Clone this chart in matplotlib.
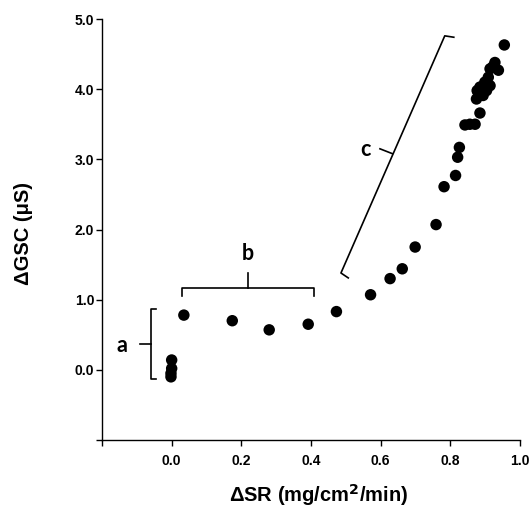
import matplotlib
matplotlib.use("Agg")
import matplotlib.pyplot as plt

# Data
delta_sr = [0.000, 0.000, -0.002, -0.002, 0.035, 0.174, 0.280, 0.392, 0.473,
            0.571, 0.627, 0.662, 0.699, 0.759, 0.782, 0.815, 0.821, 0.826,
            0.842, 0.856, 0.871, 0.885, 0.875, 0.880, 0.894, 0.885, 0.904,
            0.899, 0.914, 0.909, 0.914, 0.928, 0.938, 0.922, 0.890, 0.877,
            0.955]
delta_gsc = [0.14, 0.02, -0.05, -0.10, 0.78, 0.70, 0.57, 0.65, 0.83,
             1.07, 1.30, 1.44, 1.75, 2.07, 2.61, 2.77, 3.03, 3.17,
             3.49, 3.50, 3.50, 3.66, 3.86, 3.96, 3.91, 4.03, 3.98,
             4.10, 4.05, 4.17, 4.29, 4.38, 4.27, 4.32, 4.01, 3.98,
             4.63]

x_ticks = [-0.2, 0.0, 0.2, 0.4, 0.6, 0.8, 1.0]
x_tick_labels = ["", "0.0", "0.2", "0.4", "0.6", "0.8", "1.0"]
y_ticks = [-1.0, 0.0, 1.0, 2.0, 3.0, 4.0, 5.0]
y_tick_labels = ["", "0.0", "1.0", "2.0", "3.0", "4.0", "5.0"]

W, H = 531, 505
fig = plt.figure(figsize=(W / 100, H / 100), dpi=100)
ax = fig.add_axes([102 / W, 1 - 440 / H, (520 - 102) / W, (440 - 19) / H])

ax.scatter(delta_sr, delta_gsc, s=68, color="black", edgecolors="none", zorder=3)

ax.set_xlim(-0.2, 1.0)
ax.set_ylim(-1.0, 5.0)
ax.spines["top"].set_visible(False)
ax.spines["right"].set_visible(False)
for s in ("left", "bottom"):
    ax.spines[s].set_linewidth(1.0)

tick_font = dict(family="Liberation Sans", weight="bold", size=10)
ax.set_xticks(x_ticks)
ax.set_xticklabels(x_tick_labels, **tick_font)
ax.set_yticks(y_ticks)
ax.set_yticklabels(y_tick_labels, **tick_font)
ax.tick_params(direction="out", length=4, width=1.0)
ax.tick_params(axis="x", pad=6)
ax.tick_params(axis="y", pad=1.5)

plt.rcParams["mathtext.fontset"] = "custom"
plt.rcParams["mathtext.bf"] = "Liberation Sans:bold"
plt.rcParams["mathtext.rm"] = "Liberation Sans"
label_font = dict(family="Liberation Sans", weight="bold", size=14.5)
ax.set_xlabel("ΔSR (mg/cm$^\\mathbf{2}$/min)", **label_font)
ax.xaxis.set_label_coords(0.519, -0.10)
ax.set_ylabel("ΔGSC (μS)", **label_font)
ax.yaxis.set_label_coords(-0.165, 0.49)

lw = 1.2
# bracket a
ax.plot([-0.045, -0.058, -0.058, -0.045], [0.87, 0.87, -0.13, -0.13], color="black", lw=lw, clip_on=False)
ax.plot([-0.090, -0.058], [0.37, 0.37], color="black", lw=lw)
# bracket b
ax.plot([0.031, 0.031, 0.408, 0.408], [1.05, 1.17, 1.17, 1.05], color="black", lw=lw)
ax.plot([0.218, 0.218], [1.17, 1.38], color="black", lw=lw)
# bracket c
ax.plot([0.507, 0.486, 0.784, 0.810], [1.31, 1.38, 4.76, 4.74], color="black", lw=lw)
ax.plot([0.634, 0.598], [3.08, 3.15], color="black", lw=lw)

letter_font = dict(family="Lato", weight="bold", size=15.5)
ax.text(-0.144, 0.34, "a", ha="center", va="center", **letter_font)
ax.text(0.218, 1.66, "b", ha="center", va="center", **letter_font)
ax.text(0.555, 3.14, "c", ha="center", va="center", **letter_font)

fig.savefig("out.png", dpi=100)
